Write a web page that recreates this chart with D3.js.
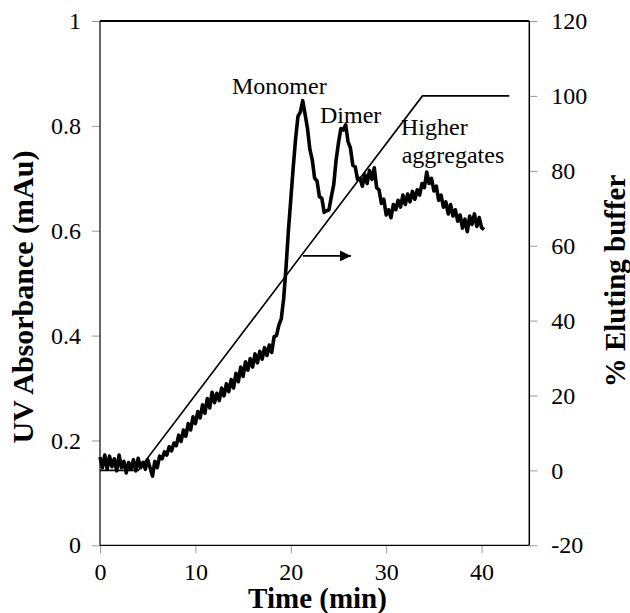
<!DOCTYPE html>
<html><head><meta charset="utf-8">
<script src="https://cdn.jsdelivr.net/npm/d3@7"></script>
<style>body{margin:0;background:#fff}svg{display:block}svg text{font-family:"Liberation Serif","Times New Roman",serif !important;fill:#000}</style>
</head><body><svg id="c" width="630" height="613"></svg>
<script>
const xTicks = [0, 10, 20, 30, 40];
const yLeftTicks = [0, 0.2, 0.4, 0.6, 0.8, 1];
const yRightTicks = [-20, 0, 20, 40, 60, 80, 100, 120];
const traceTime = [0,0.25,0.5,0.75,1,1.25,1.5,1.75,2,2.25,2.5,2.75,3,3.25,3.5,3.75,4,4.25,4.5,4.75,5,5.25,5.5,5.75,6,6.25,6.5,6.75,7,7.25,7.5,7.75,8,8.25,8.5,8.75,9,9.25,9.5,9.75,10,10.25,10.5,10.75,11,11.25,11.5,11.75,12,12.25,12.5,12.75,13,13.25,13.5,13.75,14,14.25,14.5,14.75,15,15.25,15.5,15.75,16,16.25,16.5,16.75,17,17.25,17.5,17.75,18,18.25,18.5,18.75,19,19.25,19.5,19.75,20,20.25,20.5,20.75,21,21.25,21.5,21.75,22,22.25,22.5,22.75,23,23.25,23.5,23.75,24,24.25,24.5,24.75,25,25.25,25.5,25.75,26,26.25,26.5,26.75,27,27.25,27.5,27.75,28,28.25,28.5,28.75,29,29.25,29.5,29.75,30,30.25,30.5,30.75,31,31.25,31.5,31.75,32,32.25,32.5,32.75,33,33.25,33.5,33.75,34,34.25,34.5,34.75,35,35.25,35.5,35.75,36,36.25,36.5,36.75,37,37.25,37.5,37.75,38,38.25,38.5,38.75,39,39.25,39.5,39.75,40,40.25];
const traceAbs = [
0.168,0.148,0.172,0.145,0.170,0.150,0.165,0.142,0.172,0.148,0.160,0.138,0.158,0.145,0.163,0.142,0.166,0.148,0.158,0.145,0.163,0.148,0.132,
0.160,0.148,0.170,0.165,0.178,0.172,0.188,0.180,0.195,0.190,
0.210,0.198,0.220,0.208,0.232,0.220,0.245,0.232,0.255,0.243,
0.268,0.252,0.280,0.262,0.292,0.272,0.290,0.276,0.300,0.285,
0.308,0.293,0.316,0.300,0.328,0.312,0.340,0.322,0.350,0.334,
0.356,0.340,0.365,0.348,0.370,0.355,0.377,0.362,0.382,0.368,
0.398,0.400,0.420,0.432,0.470,
0.530,0.600,0.660,0.720,0.775,0.818,0.826,0.848,0.822,0.795,
0.755,0.735,0.700,0.695,0.665,0.662,0.635,0.638,0.640,0.665,
0.688,0.735,0.768,0.795,0.792,0.802,0.770,0.758,0.725,0.722,
0.698,0.700,0.685,0.708,0.690,0.715,0.698,0.720,0.682,0.678,
0.652,0.660,0.630,0.640,0.625,0.650,0.640,0.658,0.645,0.668,
0.650,0.670,0.655,0.675,0.660,0.678,0.668,0.690,0.682,0.712,
0.690,0.700,0.676,0.685,0.658,0.668,0.645,0.655,0.632,0.650,
0.628,0.640,0.618,0.630,0.605,0.622,0.598,0.628,0.612,0.632,
0.608,0.625,0.606,0.602];
const gradTime = [0, 4, 33.8, 42.9];
const gradPct = [0, 0, 100, 100];
const labels = ["Monomer", "Dimer", "Higher", "aggregates"];
const labelAt = [[13.84, 0.86], [23.06, 0.805], [31.55, 0.7825], [31.62, 0.7286]];
const arrowFrom = [21.28, 0.552], arrowTo = [26.31, 0.552];

const FONT = '"Liberation Serif","Times New Roman",serif';
const svg = d3.select("#c");
const L = 100, R = 529.3, T = 21, B = 545.3;
const x = d3.scaleLinear().domain([0, 45]).range([L, R]);
const yL = d3.scaleLinear().domain([0, 1]).range([B, T]);
const yR = d3.scaleLinear().domain([-20, 120]).range([B, T]);
const fmt = d => String(d);

// axes
const axL = svg.append("g").attr("transform", `translate(${L},0)`)
  .call(d3.axisLeft(yL).tickValues(yLeftTicks).tickSize(8).tickPadding(11).tickFormat(fmt));
const axB = svg.append("g").attr("transform", `translate(0,${B})`)
  .call(d3.axisBottom(x).tickValues(xTicks).tickSize(8).tickPadding(10).tickFormat(fmt));
const axR = svg.append("g").attr("transform", `translate(${R},0)`)
  .call(d3.axisRight(yR).tickValues(yRightTicks).tickSize(8).tickPadding(14).tickFormat(fmt));
[axL, axB, axR].forEach(a => {
  a.attr("font-family", FONT);
  a.select(".domain").remove();
  a.selectAll(".tick line").attr("stroke", "#999").attr("stroke-width", 1);
  a.selectAll(".tick text").style("font-size", "24px").style("font-family", FONT).attr("fill", "#000");
});
axB.selectAll(".tick text").attr("dy", "0.68em");

// frame
svg.append("line").attr("x1", L).attr("x2", L).attr("y1", T).attr("y2", B).attr("stroke", "#000").attr("stroke-width", 1.2);
svg.append("line").attr("x1", L).attr("x2", R).attr("y1", B).attr("y2", B).attr("stroke", "#000").attr("stroke-width", 1.2);
svg.append("line").attr("x1", R).attr("x2", R).attr("y1", T).attr("y2", B).attr("stroke", "#000").attr("stroke-width", 1.5);
svg.append("line").attr("x1", L).attr("x2", R).attr("y1", T).attr("y2", T).attr("stroke", "#000").attr("stroke-width", 2.2);

// gradient line
const grad = gradTime.map((t, i) => [t, gradPct[i]]);
svg.append("path").attr("d", d3.line().x(d => x(d[0])).y(d => yR(d[1]))(grad))
  .attr("fill", "none").attr("stroke", "#000").attr("stroke-width", 1.6);

// trace
const trace = traceTime.map((t, i) => [t, traceAbs[i]]);
svg.append("path").attr("d", d3.line().x(d => x(d[0])).y(d => yL(d[1]))(trace))
  .attr("fill", "none").attr("stroke", "#000").attr("stroke-width", 3.6).attr("stroke-linejoin", "round");

// arrow
svg.append("defs").append("marker").attr("id", "ah").attr("viewBox", "0 0 10 10")
  .attr("refX", 10).attr("refY", 5).attr("markerUnits", "userSpaceOnUse")
  .attr("markerWidth", 14).attr("markerHeight", 11).attr("orient", "auto")
  .append("path").attr("d", "M0,0L10,5L0,10Z").attr("fill", "#000");
svg.append("line").attr("x1", x(arrowFrom[0])).attr("y1", yL(arrowFrom[1]))
  .attr("x2", x(arrowTo[0])).attr("y2", yL(arrowTo[1]))
  .attr("stroke", "#000").attr("stroke-width", 1.6).attr("marker-end", "url(#ah)");

// annotations
labels.forEach((s, i) => {
  svg.append("text").attr("x", x(labelAt[i][0])).attr("y", yL(labelAt[i][1]))
    .attr("text-anchor", "start").style("font-family", FONT).style("font-size", "24px").text(s);
});

// titles
svg.append("text").attr("x", 317.5).attr("y", 608).attr("text-anchor", "middle")
  .style("font-family", FONT).style("font-size", "29px").style("font-weight", "bold").text("Time (min)");
svg.append("text").attr("transform", "translate(33,297) rotate(-90)").attr("text-anchor", "middle")
  .style("font-family", FONT).style("font-size", "30px").style("font-weight", "bold").text("UV Absorbance (mAu)");
svg.append("text").attr("transform", "translate(625,281) rotate(-90)").attr("text-anchor", "middle")
  .style("font-family", FONT).style("font-size", "29px").style("font-weight", "bold").text("% Eluting buffer");
</script></body></html>
